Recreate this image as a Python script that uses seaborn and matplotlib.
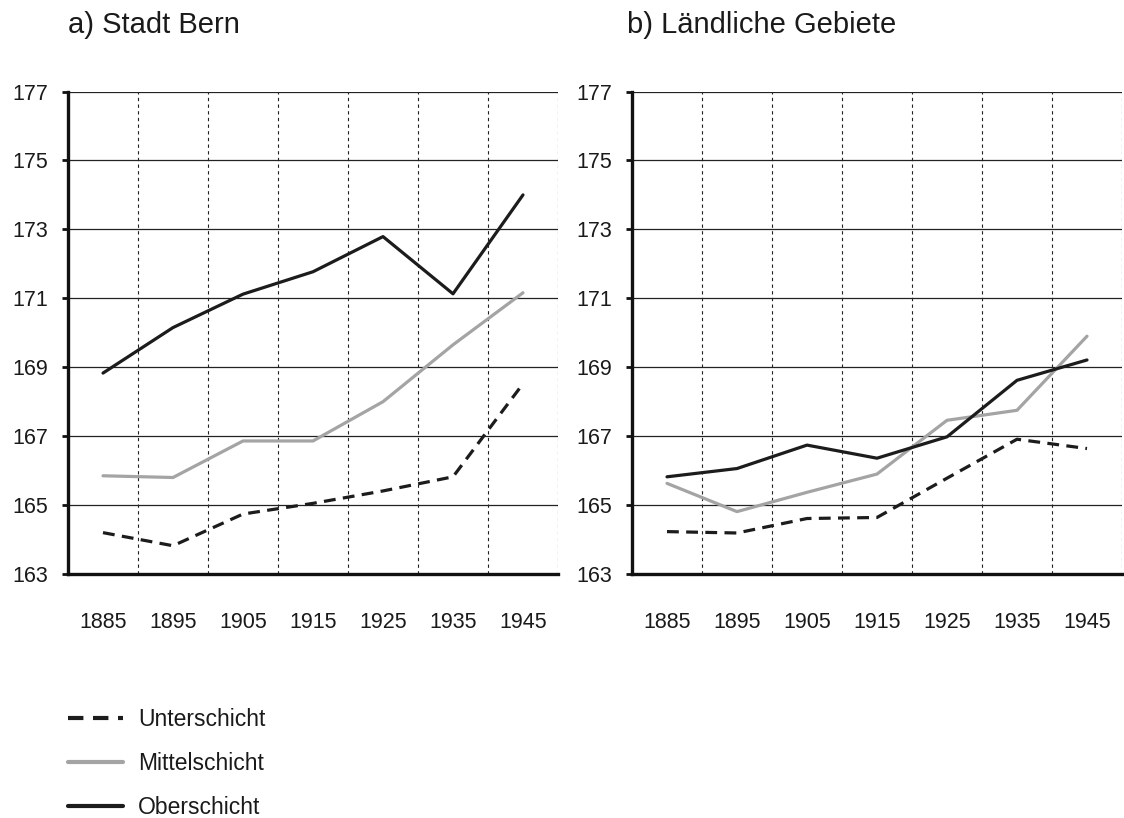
import numpy as np
import pandas as pd
import matplotlib
matplotlib.use("Agg")
import matplotlib.pyplot as plt
import seaborn as sns

years = [1885, 1895, 1905, 1915, 1925, 1935, 1945]
classes = ["Unterschicht", "Mittelschicht", "Oberschicht"]

# a) Stadt Bern
bern_unter = [164.2, 163.82, 164.74, 165.05, 165.41, 165.82, 168.52]
bern_mittel = [165.85, 165.8, 166.86, 166.86, 168.0, 169.65, 171.16]
bern_ober = [168.83, 170.15, 171.12, 171.77, 172.79, 171.13, 174.0]

# b) Ländliche Gebiete
land_unter = [164.23, 164.19, 164.61, 164.64, 165.78, 166.91, 166.64]
land_mittel = [165.63, 164.81, 165.37, 165.9, 167.46, 167.75, 169.9]
land_ober = [165.82, 166.06, 166.74, 166.36, 166.98, 168.62, 169.21]

titles = ["a) Stadt Bern", "b) Ländliche Gebiete"]
y_ticks = [163, 165, 167, 169, 171, 173, 175, 177]


def long_frame(unter, mittel, ober):
    rows = []
    for name, vals in zip(classes, [unter, mittel, ober]):
        for yr, v in zip(years, vals):
            rows.append({"Jahr": yr, "Groesse": v, "Schicht": name})
    return pd.DataFrame(rows)


sns.set_theme(style="white")
plt.rcParams["font.family"] = ["Liberation Sans", "DejaVu Sans"]

palette = {"Unterschicht": "#1c1c1c", "Mittelschicht": "#a4a4a4", "Oberschicht": "#1c1c1c"}
dashes = {"Unterschicht": (3.7, 2.3), "Mittelschicht": "", "Oberschicht": ""}

fig = plt.figure(figsize=(11.24, 8.18), dpi=100)
W, H = 1124, 818
ax_l = fig.add_axes([68 / W, 1 - 574 / H, 490 / W, (574 - 91.5) / H])
ax_r = fig.add_axes([632 / W, 1 - 574 / H, 490 / W, (574 - 91.5) / H])

frames = [long_frame(bern_unter, bern_mittel, bern_ober),
          long_frame(land_unter, land_mittel, land_ober)]

for ax, df in zip([ax_l, ax_r], frames):
    sns.lineplot(data=df, x="Jahr", y="Groesse", hue="Schicht", style="Schicht",
                 hue_order=classes, style_order=classes, palette=palette,
                 dashes=dashes, linewidth=2.3, ax=ax, legend=(ax is ax_l))
    ax.set_xlim(1880, 1950)
    ax.set_ylim(163, 177)
    ax.set_yticks(y_ticks)
    ax.set_xticks(years)
    ax.set_xticklabels([str(y) for y in years])
    ax.set_xticks(np.arange(1880, 1951, 10), minor=True)
    ax.set_xlabel("")
    ax.set_ylabel("")
    ax.grid(False)
    ax.yaxis.grid(True, color="#222222", linewidth=0.9, linestyle="-")
    ax.xaxis.grid(True, which="minor", color="#222222", linewidth=0.8, linestyle=(0, (3, 3)))
    ax.set_axisbelow(True)
    for s in ["top", "right"]:
        ax.spines[s].set_visible(False)
    for s in ["left", "bottom"]:
        ax.spines[s].set_color("#111111")
        ax.spines[s].set_linewidth(2.4)
    ax.tick_params(axis="x", which="major", length=0, pad=27, labelsize=15.5, labelcolor="#1a1a1a")
    ax.tick_params(axis="x", which="minor", length=4.5, width=2, color="#111111", direction="out")
    ax.tick_params(axis="y", which="major", length=4.5, width=2, color="#111111", direction="out",
                   pad=10, labelsize=15.5, labelcolor="#1a1a1a", left=True)
    ax.tick_params(axis="x", bottom=True)

fig.text(68 / W, 1 - 33 / H, titles[0], fontsize=21, color="#1a1a1a", va="baseline", ha="left")
fig.text(627 / W, 1 - 33 / H, titles[1], fontsize=21, color="#1a1a1a", va="baseline", ha="left")

handles, labels = ax_l.get_legend_handles_labels()
ax_l.get_legend().remove()
for h in handles:
    h.set_linewidth(3)
fig.legend(handles, labels, loc="upper left", bbox_to_anchor=(68 / W, 1 - 708 / H),
           frameon=False, fontsize=16.5, borderpad=0, borderaxespad=0,
           handlelength=2.4, handletextpad=0.65, labelspacing=0.92, labelcolor="#1a1a1a")

fig.savefig("out.png", dpi=100, facecolor="white")
